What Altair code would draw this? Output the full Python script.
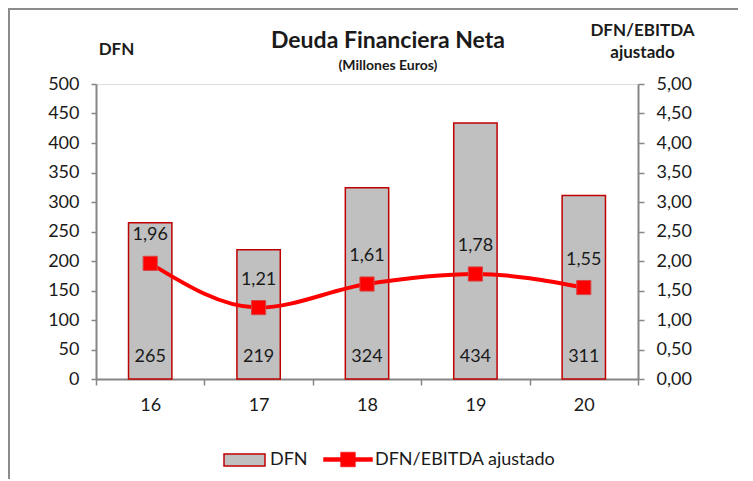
import altair as alt
import pandas as pd

years = ["16", "17", "18", "19", "20"]
dfn = [265, 219, 324, 434, 311]
ratio = [1.96, 1.21, 1.61, 1.78, 1.55]
series_names = ["DFN", "DFN/EBITDA ajustado"]
title_text = "Deuda Financiera Neta"
subtitle_text = "(Millones Euros)"
left_ticks = list(range(0, 501, 50))
right_ticks = [0, 0.5, 1, 1.5, 2, 2.5, 3, 3.5, 4, 4.5, 5]

df = pd.DataFrame({"year": years, "dfn": dfn, "ratio": ratio})

FONT = "Lato"
AX = "#868686"
TXT = "#1a1a1a"
LBL = 18

x_enc = alt.X(
    "year:N",
    sort=years,
    scale=alt.Scale(paddingInner=0, paddingOuter=0),
    axis=alt.Axis(
        title=None, labelAngle=0, tickBand="extent", labelFontSize=LBL,
        labelPadding=11, tickSize=6, domainColor=AX, tickColor=AX,
        domainWidth=2, tickWidth=1.5, labelColor=TXT, labelFont=FONT,
    ),
)
x_plain = alt.X("year:N", sort=years)

left_axis = alt.Axis(
    values=left_ticks, title="DFN", titleAngle=0,
    titleX=20, titleY=-35, titleAlign="center", titleBaseline="middle",
    titleFontSize=17, titleFontWeight="bold", titleFont=FONT, titleColor=TXT,
    labelFontSize=LBL, labelFont=FONT, labelColor=TXT, labelPadding=12,
    labelOverlap=False, labelFlush=False,
    tickSize=5, domainColor=AX, tickColor=AX, domainWidth=2, tickWidth=1.5,
    grid=False, orient="left",
)
left_scale = alt.Scale(domain=[0, 500], nice=False, zero=True)

right_axis = alt.Axis(
    orient="right", values=right_ticks,
    labelExpr="replace(format(datum.value, '.2f'), '.', ',')",
    title=["DFN/EBITDA", "ajustado"], titleAngle=0, titleX=4, titleY=-54,
    titleAlign="center", titleBaseline="middle", titleLineHeight=22,
    titleFontSize=17, titleFontWeight="bold", titleFont=FONT, titleColor=TXT,
    labelFontSize=LBL, labelFont=FONT, labelColor=TXT, labelPadding=12,
    labelOverlap=False, labelFlush=False,
    tickSize=6, domainColor=AX, tickColor=AX, domainWidth=2, tickWidth=1.5,
    grid=False,
)
right_scale = alt.Scale(domain=[0, 5], nice=False, zero=True)

base = alt.Chart(df)

bars = base.transform_calculate(s1=f"'{series_names[0]}'").mark_bar(
    width=alt.RelativeBandSize(0.4), stroke="#C00000", strokeWidth=1.5
).encode(
    x=x_enc,
    y=alt.Y("dfn:Q", scale=left_scale, axis=left_axis),
    fill=alt.Fill(
        "s1:N",
        scale=alt.Scale(domain=[series_names[0]], range=["#C0C0C0"]),
        legend=alt.Legend(
            title=None, orient="none", legendX=127, legendY=354.5,
            symbolType="M-1,-0.29H1V0.29H-1Z", symbolSize=1681,
            symbolStrokeColor="#C00000", symbolStrokeWidth=1.5,
            labelOffset=4, labelFontSize=LBL, labelFont=FONT, labelColor=TXT,
            labelLimit=400,
        ),
    ),
)

bar_text = base.mark_text(
    fontSize=LBL, font=FONT, color=TXT, baseline="middle", dy=-22
).encode(
    x=x_plain,
    y=alt.YDatum(0, scale=left_scale, axis=left_axis),
    text=alt.Text("dfn:Q"),
)

left = alt.layer(bars, bar_text)

line = base.mark_line(
    color="#FF0000", strokeWidth=4, interpolate="monotone"
).encode(
    x=x_plain,
    y=alt.Y("ratio:Q", scale=right_scale, axis=right_axis),
)

points = base.transform_calculate(s2=f"'{series_names[1]}'").mark_point(
    shape="square", filled=True, size=200, stroke="#D64545", strokeWidth=1, opacity=1
).encode(
    x=x_plain,
    y=alt.Y("ratio:Q", scale=right_scale, axis=right_axis),
    fill=alt.Fill(
        "s2:N",
        scale=alt.Scale(domain=[series_names[1]], range=["#FF0000"]),
        legend=alt.Legend(
            title=None, orient="none", legendX=227, legendY=350.5,
            symbolType="M-1,-0.08H1V0.08H-1Z M-0.3,-0.3H0.3V0.3H-0.3Z",
            symbolSize=2401, symbolStrokeColor="#FF0000", symbolStrokeWidth=0.5,
            labelOffset=2, labelFontSize=LBL, labelFont=FONT, labelColor=TXT,
            labelLimit=400,
        ),
    ),
)

ratio_text = base.transform_calculate(
    lbl="replace(format(datum.ratio, '.2f'), '.', ',')"
).mark_text(
    fontSize=LBL, font=FONT, color=TXT, baseline="middle", dy=-28
).encode(
    x=x_plain,
    y=alt.Y("ratio:Q", scale=right_scale, axis=right_axis),
    text="lbl:N",
)

right = alt.layer(line, points, ratio_text)

one = alt.Data(values=[{"a": 1}])
frame_top = alt.Chart(one).mark_rule(color="#8c8c8c", strokeWidth=2).encode(
    x=alt.value(-88), x2=alt.value(700), y=alt.value(-75)
)
frame_left = alt.Chart(one).mark_rule(color="#8c8c8c", strokeWidth=2).encode(
    x=alt.value(-87), y=alt.value(-76), y2=alt.value(420)
)
title_mark = alt.Chart(one).mark_text(
    text=title_text, font=FONT, fontSize=23, fontWeight="bold", color=TXT,
    align="center", baseline="alphabetic",
).encode(x=alt.value(292), y=alt.value(-36))
subtitle_mark = alt.Chart(one).mark_text(
    text=subtitle_text, font=FONT, fontSize=14, fontWeight="bold", color=TXT,
    align="center", baseline="alphabetic",
).encode(x=alt.value(292), y=alt.value(-14))

chart = alt.layer(
    frame_top, frame_left, title_mark, subtitle_mark, left, right
).resolve_scale(
    y="independent", fill="independent"
).resolve_legend(fill="independent").properties(
    width=542,
    height=295,
    autosize=alt.AutoSizeParams(type="none"),
    padding={"left": 88, "top": 76, "right": 100, "bottom": 100},
).configure_view(stroke=None).configure(background="white")

chart.save("out.html", embed_options={"renderer": "svg", "actions": False})
